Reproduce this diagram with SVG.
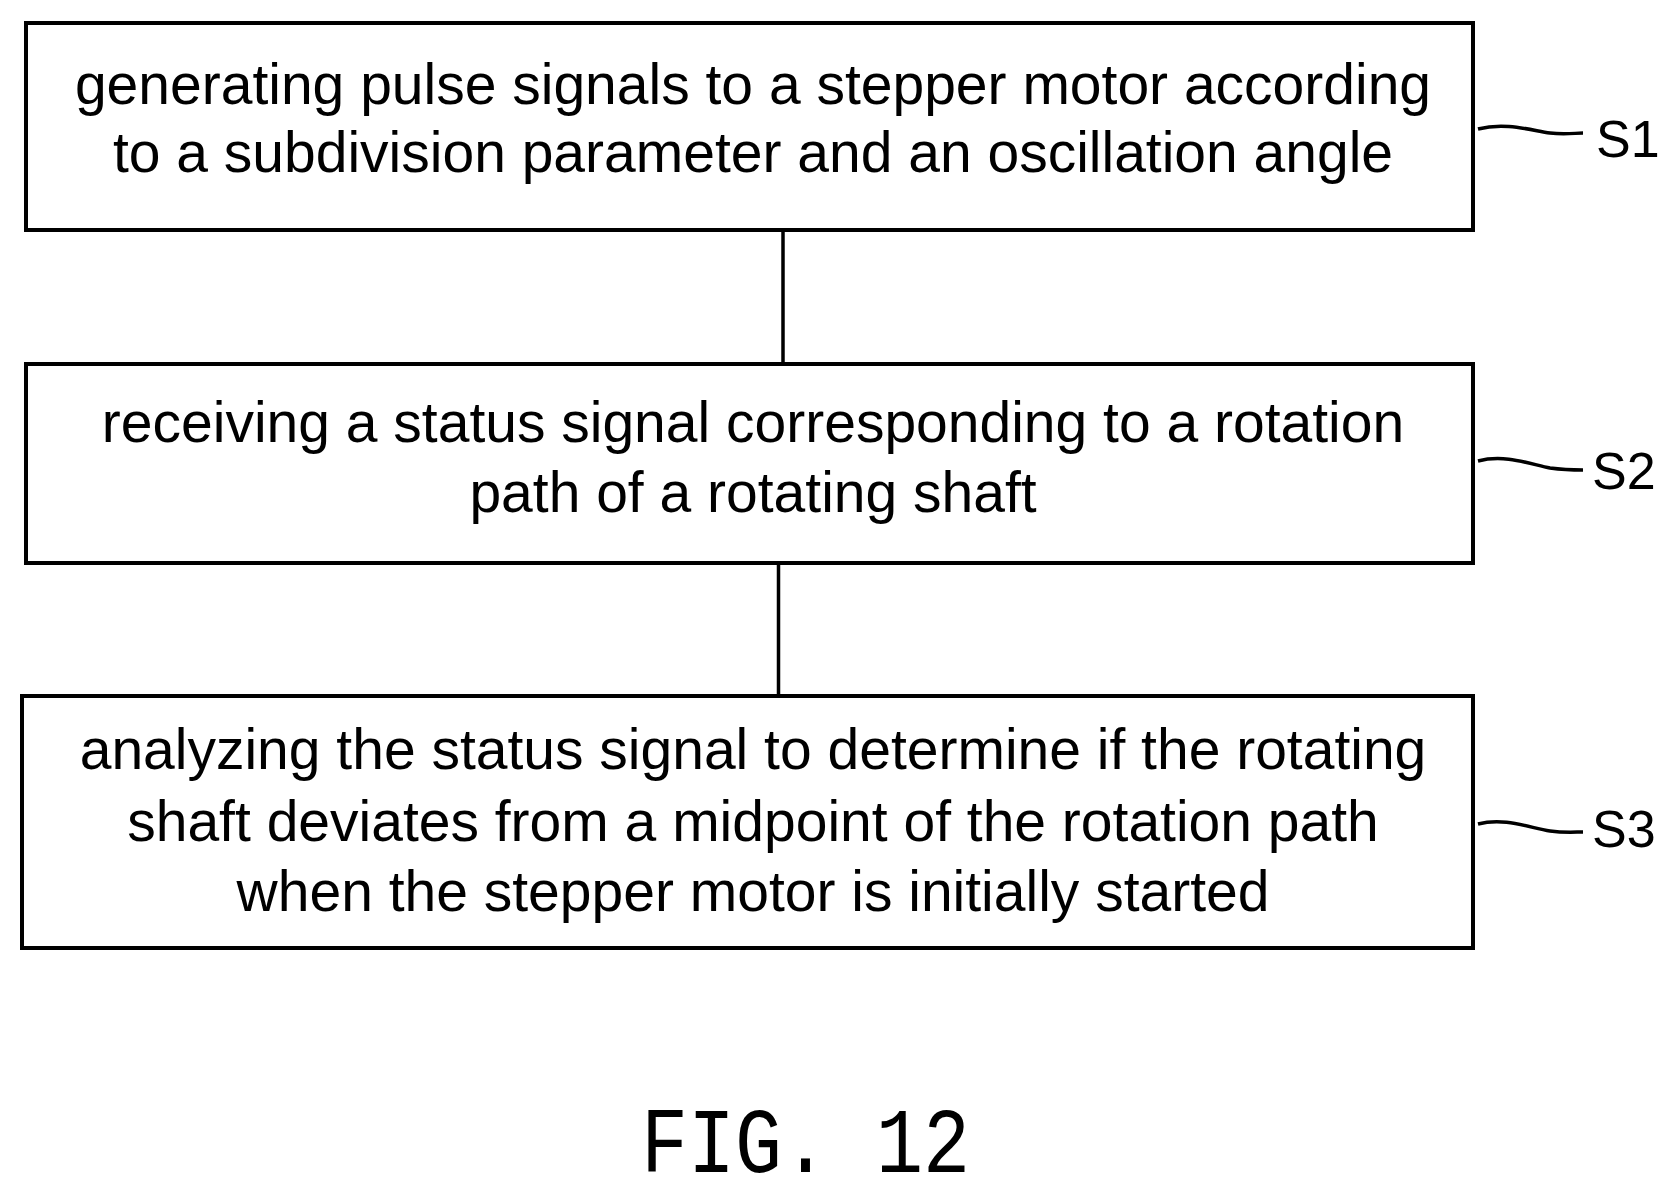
<svg xmlns="http://www.w3.org/2000/svg" width="1673" height="1198" viewBox="0 0 1673 1198">
<style>
.box{fill:#fff;stroke:#000;stroke-width:4}
.t{font-family:"Liberation Sans",Arial,sans-serif;font-size:57px;text-anchor:middle;fill:#000}
.lab{font-family:"Liberation Sans",Arial,sans-serif;font-size:52px;fill:#000}
.ln{stroke:#000;stroke-width:3.5;fill:none}
</style>
<rect width="1673" height="1198" fill="#fff"/>
<g id="connectors">
<line class="ln" x1="783" y1="229" x2="783" y2="364"/>
<line class="ln" x1="778.5" y1="563" x2="778.5" y2="696"/>
<path class="ln" stroke-width="2.5" d="M1478,129 C1505,122 1530,130 1550,133 C1565,135 1575,133 1583,133"/>
<path class="ln" stroke-width="2.5" d="M1478,461 C1505,454 1530,464 1550,468 C1565,470 1575,470 1583,470"/>
<path class="ln" stroke-width="2.5" d="M1478,824 C1505,817 1530,828 1550,831 C1565,833 1575,832 1583,832"/>
</g>
<g id="S1">
<rect class="box" x="26" y="23" width="1447" height="207"/>
<text class="t" x="753" y="104">generating pulse signals to a stepper motor according</text>
<text class="t" x="753" y="172">to a subdivision parameter and an oscillation angle</text>
<text class="lab" x="1596" y="157">S1</text>
</g>
<g id="S2">
<rect class="box" x="26" y="364" width="1447" height="199"/>
<text class="t" x="753" y="442">receiving a status signal corresponding to a rotation</text>
<text class="t" x="753" y="512">path of a rotating shaft</text>
<text class="lab" x="1592" y="489">S2</text>
</g>
<g id="S3">
<rect class="box" x="22" y="696" width="1451" height="252"/>
<text class="t" x="753" y="769">analyzing the status signal to determine if the rotating</text>
<text class="t" x="753" y="841">shaft deviates from a midpoint of the rotation path</text>
<text class="t" x="753" y="911">when the stepper motor is initially started</text>
<text class="lab" x="1592" y="847">S3</text>
</g>
<text x="641" y="1172" font-family="Liberation Mono,monospace" font-size="92" textLength="329" lengthAdjust="spacingAndGlyphs" fill="#000">FIG. 12</text>
</svg>
